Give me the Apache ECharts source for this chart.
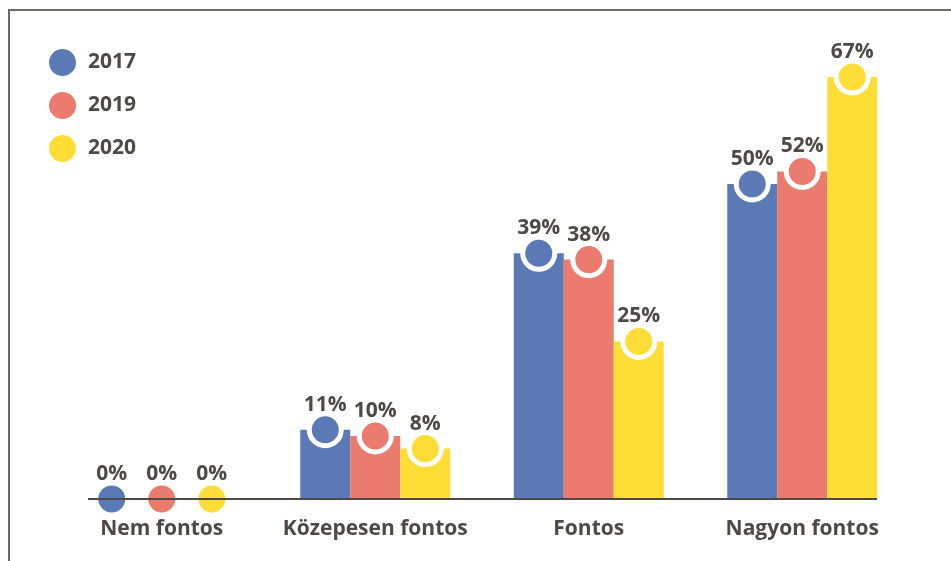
<!DOCTYPE html>
<html>
<head>
<meta charset="utf-8">
<script src="https://cdn.jsdelivr.net/npm/echarts@6/dist/echarts.min.js"></script>
<style>
  html, body { margin: 0; padding: 0; background: #fff; }
  #chart { width: 951px; height: 561px; }
</style>
</head>
<body>
<div id="chart"></div>
<script>
var categories = ['Nem fontos', 'Közepesen fontos', 'Fontos', 'Nagyon fontos']
var years = ['2017', '2019', '2020']
var values2017 = [0, 11, 39, 50]
var values2019 = [0, 10, 38, 52]
var values2020 = [0, 8, 25, 67]
var colors = ['#5b7ab5', '#ec7b6f', '#ffdd37']
var textColor = '#4e4946'
var font = '"Open Sans", "Noto Sans", sans-serif'

var allValues = [values2017, values2019, values2020]
var series = []
for (var i = 0; i < years.length; i++) {
    var vals = allValues[i]
    series.push({
        name: years[i],
        type: 'bar',
        barWidth: 50,
        barGap: 0,
        data: vals,
        itemStyle: { color: colors[i] },
        markPoint: {
            symbol: 'circle',
            symbolSize: 32,
            itemStyle: { color: colors[i], borderColor: '#fff', borderWidth: 5 },
            label: {
                show: true,
                position: 'top',
                distance: -4,
                formatter: '{c}%',
                color: textColor,
                fontFamily: font,
                fontWeight: 'bold',
                fontSize: 21
            },
            data: vals.map(function (v, k) { return { coord: [categories[k], v], value: v } })
        }
    })
}

var chart = echarts.init(document.getElementById('chart'))
var option = {
    animation: false,
    color: colors,
    grid: { left: 55, right: 42, top: 58, bottom: 62 },
    legend: {
        orient: 'vertical',
        left: 44,
        top: 44,
        icon: 'circle',
        itemWidth: 27,
        itemHeight: 27,
        itemGap: 16,
        textStyle: { color: textColor, fontFamily: font, fontWeight: 'bold', fontSize: 21, padding: [0, 0, 0, 7] },
        data: years
    },
    xAxis: {
        type: 'category',
        data: categories,
        axisLine: { show: false },
        axisTick: { show: false },
        axisLabel: { interval: 0, color: textColor, fontFamily: font, fontWeight: 'bold', fontSize: 21, margin: 20 }
    },
    yAxis: {
        type: 'value',
        min: 0,
        max: 70,
        show: false,
        splitLine: { show: false }
    },
    series: series
}
chart.setOption(option)

// frame and baseline drawn as decoration
var base = chart.convertToPixel({ gridIndex: 0 }, [0, 0])
chart.setOption({
    graphic: [
        {
            type: 'polyline', z: 100,
            shape: { points: [[9, 561], [9, 10], [951, 10]] },
            style: { stroke: '#6e6a66', lineWidth: 2, fill: null }
        },
        {
            type: 'line', z: 100,
            shape: { x1: 88, y1: base[1], x2: 877, y2: base[1] },
            style: { stroke: textColor, lineWidth: 2 }
        }
    ]
})
</script>
</body>
</html>
